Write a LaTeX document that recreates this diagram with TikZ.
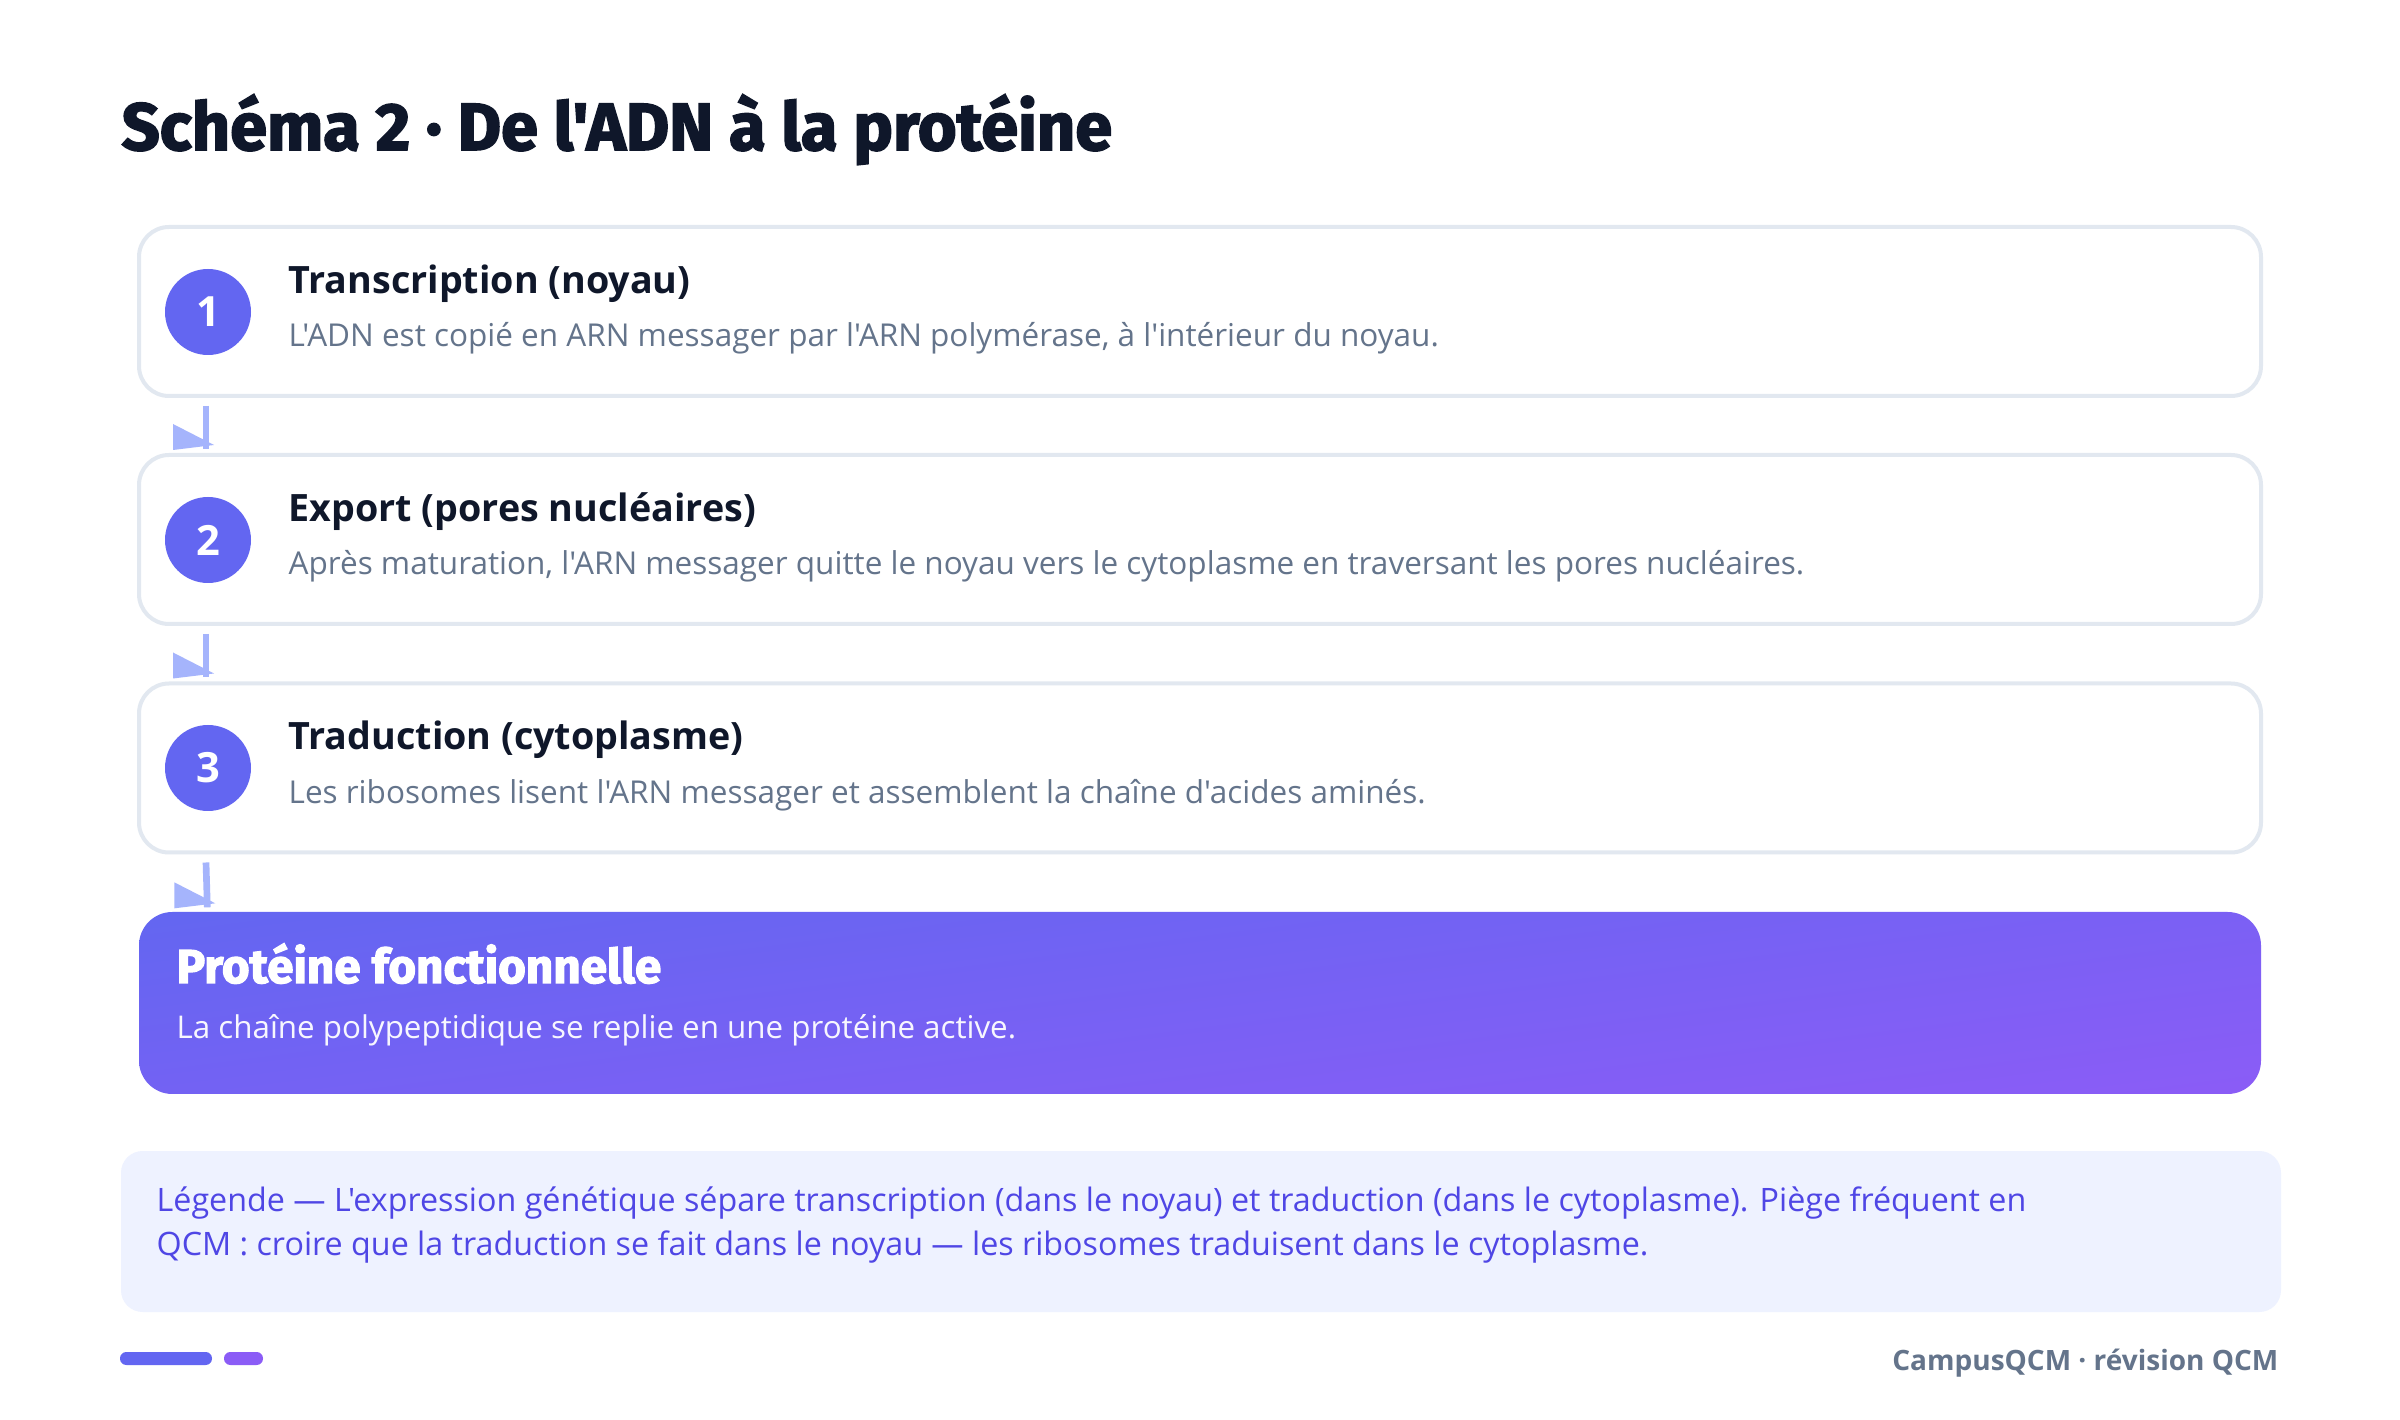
\documentclass[tikz,border=0pt]{standalone}
\usepackage{fontspec}
\newfontfamily\bodyfont{Open Sans}
\newfontfamily\heavyfont{Fira Sans}[BoldFeatures={FakeBold=2.5}]
\usetikzlibrary{calc}
\definecolor{ink}{HTML}{0F172A}
\definecolor{slate}{HTML}{64748B}
\definecolor{bordc}{HTML}{E2E8F0}
\definecolor{indigo}{HTML}{6366F1}
\definecolor{violet}{HTML}{8B5CF6}
\definecolor{arrowc}{HTML}{A5B4FC}
\definecolor{legbg}{HTML}{EEF2FF}
\definecolor{legtx}{HTML}{4F46E5}
\pgfdeclarefunctionalshading{boxgrad}{\pgfpointorigin}{\pgfpoint{100bp}{100bp}}{}{
  25 sub 50 div
  1 exch sub 0.4 mul
  exch 25 sub 50 div 0.6 mul add
  dup 0.157 mul 0.388 add
  exch dup -0.039 mul 0.4 add
  exch 0.020 mul 0.945 add
}
\begin{document}
\begin{tikzpicture}[x=0.3pt,y=-0.3pt,
  stepbox/.style={draw=bordc, line width=1.2pt, fill=white, rounded corners=9pt,
    minimum width=636.6pt, minimum height=50.7pt, inner sep=0pt},
  finalbox/.style={rounded corners=10pt, shade, shading=boxgrad,
    minimum width=636.6pt, minimum height=54.6pt, inner sep=0pt},
  legbox/.style={fill=legbg, rounded corners=6.5pt,
    minimum width=648pt, minimum height=48.3pt, inner sep=0pt},
  numc/.style={circle, fill=indigo, minimum size=25.8pt, inner sep=0pt, text=white,
    font=\bodyfont\bfseries\fontsize{12.5}{14}\selectfont},
  ttl/.style={anchor=base west, inner sep=0pt, text=ink,
    font=\bodyfont\bfseries\fontsize{11.3}{13}\selectfont},
  dsc/.style={anchor=base west, inner sep=0pt, text=slate,
    font=\bodyfont\fontsize{9.45}{11}\selectfont},
  legtext/.style={anchor=base west, inner sep=0pt, text=legtx,
    font=\bodyfont\fontsize{9.68}{11}\selectfont},
  conn/.style={draw=arrowc, line width=2pt},
  tipfill/.style={fill=arrowc}
]
\useasboundingbox (0,0) rectangle (2400,1420);
\fill[white] (0,0) rectangle (2400,1420);

% title
\node[anchor=base west, inner sep=0pt, text=ink,
  font=\heavyfont\bfseries\fontsize{20}{22}\selectfont] (title) at (121,150)
  {Schéma 2 · De l'ADN à la protéine};

% step boxes
\node[stepbox] (b1) at (1200,311.5) {};
\node[stepbox] (b2) at (1200,539.5) {};
\node[stepbox] (b3) at (1200,768) {};
\node[finalbox] (b4) at (1200,1003) {};

% connectors
\foreach \a/\b in {b1/b2,b2/b3,b3/b4}{
  \draw[conn] ($(\a.south west)+(69,8)$) -- ($(\b.north west)+(69,-4)$);
  \fill[tipfill] ($(\b.north west)+(36,-29)$) -- ($(\b.north west)+(36,-3)$)
    -- ($(\b.north west)+(77,-8)$) -- cycle;
}

% numbers
\node[numc] (n1) at (208,312) {1};
\node[numc] (n2) at (208,540) {2};
\node[numc] (n3) at (208,768) {3};

% texts
\node[ttl] (t1) at (288,294) {Transcription (noyau)};
\node[dsc] (d1) at (288,347) {L'ADN est copié en ARN messager par l'ARN polymérase, à l'intérieur du noyau.};
\node[ttl] (t2) at (288,522) {Export (pores nucléaires)};
\node[dsc] (d2) at (288,575) {Après maturation, l'ARN messager quitte le noyau vers le cytoplasme en traversant les pores nucléaires.};
\node[ttl] (t3) at (288,750) {Traduction (cytoplasme)};
\node[dsc] (d3) at (288,804) {Les ribosomes lisent l'ARN messager et assemblent la chaîne d'acides aminés.};

\node[anchor=base west, inner sep=0pt, text=white,
  font=\heavyfont\bfseries\fontsize{14.27}{16}\selectfont] (t4) at (176,983) {Protéine fonctionnelle};
\node[anchor=base west, inner sep=0pt, text=white, opacity=0.95,
  font=\bodyfont\fontsize{9.4}{11}\selectfont] (d4) at (176,1038) {La chaîne polypeptidique se replie en une protéine active.};

% legend
\node[legbox] (lg) at (1201,1231.5) {};
\node[legtext] (l1) at (156,1211) {Légende — L'expression génétique sépare transcription (dans le noyau) et traduction (dans le cytoplasme). Piège fréquent en};
\node[legtext] (l2) at (156,1255) {QCM : croire que la traduction se fait dans le noyau — les ribosomes traduisent dans le cytoplasme.};

% footer
\fill[indigo, rounded corners=1.9pt] (120,1352) rectangle (212,1365);
\fill[violet, rounded corners=1.9pt] (224,1352) rectangle (263,1365);
\node[anchor=base east, inner sep=0pt, text=slate,
  font=\bodyfont\bfseries\fontsize{8.4}{10}\selectfont] (ft) at (2279,1370) {CampusQCM · révision QCM};
\end{tikzpicture}
\end{document}
